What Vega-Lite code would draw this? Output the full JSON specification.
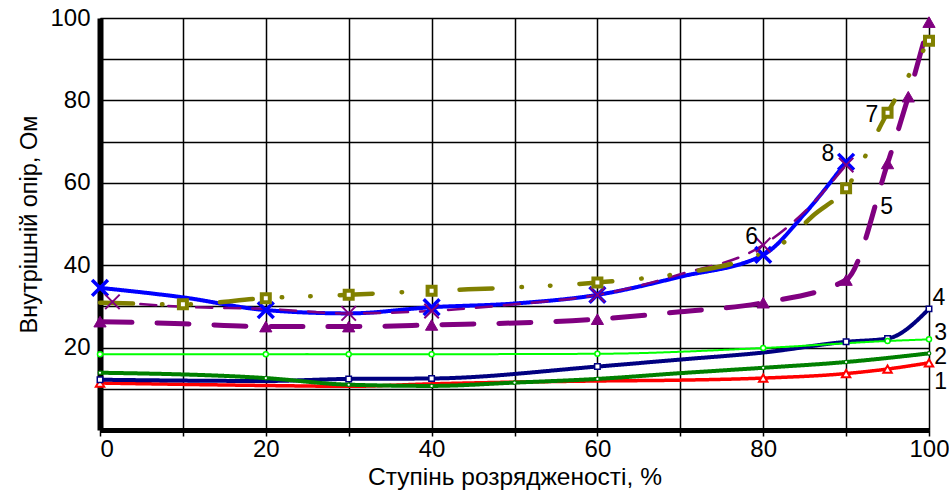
{
  "$schema": "https://vega.github.io/schema/vega-lite/v6.json",
  "width": 829,
  "height": 412,
  "autosize": {"type": "none"},
  "padding": {"left": 100, "top": 18, "right": 20, "bottom": 61},
  "background": "white",
  "datasets": {
    "curves": [
      {"s": "1", "x": 0, "y": 11.4, "m": true},
      {"s": "1", "x": 20, "y": 10.8, "m": false},
      {"s": "1", "x": 30, "y": 10.6, "m": false},
      {"s": "1", "x": 40, "y": 11.2, "m": false},
      {"s": "1", "x": 60, "y": 11.9, "m": false},
      {"s": "1", "x": 70, "y": 12.1, "m": false},
      {"s": "1", "x": 80, "y": 12.6, "m": true},
      {"s": "1", "x": 90, "y": 13.7, "m": true},
      {"s": "1", "x": 95, "y": 14.8, "m": true},
      {"s": "1", "x": 100, "y": 16.3, "m": true},

      {"s": "4", "x": 0, "y": 12.2, "m": true},
      {"s": "4", "x": 20, "y": 11.9, "m": false},
      {"s": "4", "x": 30, "y": 12.4, "m": true},
      {"s": "4", "x": 40, "y": 12.5, "m": true},
      {"s": "4", "x": 60, "y": 15.4, "m": true},
      {"s": "4", "x": 70, "y": 17.1, "m": false},
      {"s": "4", "x": 80, "y": 18.8, "m": false},
      {"s": "4", "x": 90, "y": 21.4, "m": true},
      {"s": "4", "x": 95, "y": 22.2, "m": true},
      {"s": "4", "x": 100, "y": 29.4, "m": true},

      {"s": "2", "x": 0, "y": 13.9, "m": true},
      {"s": "2", "x": 20, "y": 12.6, "m": true},
      {"s": "2", "x": 30, "y": 11.0, "m": true},
      {"s": "2", "x": 40, "y": 10.7, "m": true},
      {"s": "2", "x": 50, "y": 11.5, "m": true},
      {"s": "2", "x": 60, "y": 12.4, "m": true},
      {"s": "2", "x": 70, "y": 13.8, "m": false},
      {"s": "2", "x": 80, "y": 15.1, "m": true},
      {"s": "2", "x": 90, "y": 16.5, "m": true},
      {"s": "2", "x": 100, "y": 18.6, "m": true},

      {"s": "3", "x": 0, "y": 18.4, "m": true},
      {"s": "3", "x": 20, "y": 18.4, "m": true},
      {"s": "3", "x": 30, "y": 18.4, "m": true},
      {"s": "3", "x": 40, "y": 18.4, "m": true},
      {"s": "3", "x": 60, "y": 18.5, "m": true},
      {"s": "3", "x": 80, "y": 19.9, "m": true},
      {"s": "3", "x": 95, "y": 21.6, "m": true},
      {"s": "3", "x": 100, "y": 22.0, "m": true},

      {"s": "5", "x": 0, "y": 26.3, "m": true},
      {"s": "5", "x": 10, "y": 25.8, "m": false},
      {"s": "5", "x": 20, "y": 25.1, "m": true},
      {"s": "5", "x": 30, "y": 25.1, "m": true},
      {"s": "5", "x": 40, "y": 25.5, "m": true},
      {"s": "5", "x": 60, "y": 26.9, "m": true},
      {"s": "5", "x": 70, "y": 28.7, "m": false},
      {"s": "5", "x": 80, "y": 30.9, "m": true},
      {"s": "5", "x": 90, "y": 36.4, "m": true},
      {"s": "5", "x": 95, "y": 64.7, "m": true},
      {"s": "5", "x": 97.5, "y": 80.9, "m": true},
      {"s": "5", "x": 100, "y": 99.0, "m": true},

      {"s": "8", "x": 0, "y": 34.5, "m": true},
      {"s": "8", "x": 10, "y": 32.2, "m": false},
      {"s": "8", "x": 20, "y": 29.1, "m": true},
      {"s": "8", "x": 30, "y": 28.3, "m": false},
      {"s": "8", "x": 40, "y": 29.8, "m": true},
      {"s": "8", "x": 50, "y": 30.7, "m": false},
      {"s": "8", "x": 60, "y": 32.8, "m": true},
      {"s": "8", "x": 70, "y": 37.2, "m": false},
      {"s": "8", "x": 80, "y": 42.5, "m": true},
      {"s": "8", "x": 85, "y": 52.5, "m": false},
      {"s": "8", "x": 90, "y": 65.1, "m": true},

      {"s": "6", "x": 1.5, "y": 31.1, "m": true},
      {"s": "6", "x": 10, "y": 29.9, "m": false},
      {"s": "6", "x": 20, "y": 29.4, "m": false},
      {"s": "6", "x": 30, "y": 28.3, "m": true},
      {"s": "6", "x": 40, "y": 28.9, "m": true},
      {"s": "6", "x": 50, "y": 30.5, "m": false},
      {"s": "6", "x": 60, "y": 32.8, "m": true},
      {"s": "6", "x": 70, "y": 37.8, "m": false},
      {"s": "6", "x": 80, "y": 44.9, "m": true},
      {"s": "6", "x": 85, "y": 53.0, "m": false},
      {"s": "6", "x": 90, "y": 64.3, "m": true},

      {"s": "7", "x": 0, "y": 30.9, "m": false},
      {"s": "7", "x": 10, "y": 30.5, "m": true},
      {"s": "7", "x": 20, "y": 32.0, "m": true},
      {"s": "7", "x": 30, "y": 32.8, "m": true},
      {"s": "7", "x": 40, "y": 33.8, "m": true},
      {"s": "7", "x": 50, "y": 34.6, "m": false},
      {"s": "7", "x": 60, "y": 35.8, "m": true},
      {"s": "7", "x": 70, "y": 38.0, "m": false},
      {"s": "7", "x": 78, "y": 41.5, "m": false},
      {"s": "7", "x": 83, "y": 46.3, "m": false},
      {"s": "7", "x": 86, "y": 52.0, "m": false},
      {"s": "7", "x": 90, "y": 58.7, "m": true},
      {"s": "7", "x": 95, "y": 77.0, "m": true},
      {"s": "7", "x": 100, "y": 94.5, "m": true}
    ],
    "labels": [
      {"t": "1", "x": 101.4, "y": 11.7},
      {"t": "2", "x": 101.4, "y": 17.7},
      {"t": "3", "x": 101.4, "y": 23.5},
      {"t": "4", "x": 101.2, "y": 32.0},
      {"t": "5", "x": 94.9, "y": 54.2},
      {"t": "6", "x": 78.6, "y": 46.9},
      {"t": "7", "x": 93.1, "y": 76.5},
      {"t": "8", "x": 87.8, "y": 67.0}
    ]
  },
  "layer": [
    {
      "data": {"name": "curves"},
      "mark": {"type": "line", "interpolate": "monotone", "strokeCap": "round", "strokeJoin": "round", "clip": false},
      "encoding": {
        "x": {
          "field": "x", "type": "quantitative",
          "scale": {"domain": [0, 100], "nice": false, "zero": false},
          "axis": {
            "values": [0, 10, 20, 30, 40, 50, 60, 70, 80, 90, 100],
            "labelExpr": "datum.value % 20 == 0 ? datum.label : ''",
            "labelAlign": {"expr": "datum.value == 0 ? 'left' : 'center'"},
            "title": "Ступінь розрядженості, %",
            "titleFontSize": 24.5,
            "grid": true,
            "domainWidth": 5,
            "ticks": true, "tickSize": 6, "tickWidth": 1.5, "tickColor": "black",
            "labelPadding": 1,
            "labelFlush": false,
            "titlePadding": 4
          }
        },
        "y": {
          "field": "y", "type": "quantitative",
          "scale": {"domain": [0, 100], "nice": false, "zero": true},
          "axis": {
            "values": [0, 10, 20, 30, 40, 50, 60, 70, 80, 90, 100],
            "labelExpr": "datum.value % 20 == 0 && datum.value > 0 ? datum.label : ''",
            "title": "Внутрішній опір, Ом",
            "titleFontSize": 23.5,
            "grid": true,
            "domainWidth": 6,
            "ticks": false,
            "labelPadding": 10,
            "titlePadding": 8
          }
        },
        "detail": {"field": "s", "type": "nominal"},
        "stroke": {
          "field": "s", "type": "nominal",
          "scale": {"domain": ["1", "2", "3", "4", "5", "6", "7", "8"],
                    "range": ["#ff0000", "#008000", "#00ff00", "#000080", "#800080", "#800080", "#808000", "#0000ff"]},
          "legend": null
        },
        "strokeWidth": {
          "field": "s", "type": "nominal",
          "scale": {"type": "ordinal", "domain": ["1", "2", "3", "4", "5", "6", "7", "8"],
                    "range": [3.5, 4, 2, 4, 5, 2.5, 4.5, 4]},
          "legend": null
        },
        "strokeDash": {
          "field": "s", "type": "nominal",
          "scale": {"domain": ["1", "2", "3", "4", "5", "6", "7", "8"],
                    "range": [[1, 0], [1, 0], [1, 0], [1, 0], [32, 25], [16, 12], [33, 29, 0.5, 28, 0.5, 29], [1, 0]]},
          "legend": null
        }
      }
    },
    {
      "data": {"name": "curves"},
      "transform": [{"filter": "datum.m"}],
      "mark": {"type": "point", "opacity": 1, "fillOpacity": 1, "strokeOpacity": 1, "clip": false},
      "encoding": {
        "x": {"field": "x", "type": "quantitative"},
        "y": {"field": "y", "type": "quantitative"},
        "shape": {
          "field": "s", "type": "nominal",
          "scale": {"domain": ["1", "2", "3", "4", "5", "6", "7", "8"],
                    "range": ["triangle-up", "circle", "circle", "square", "triangle-up", "M-1,-1L1,1M-1,1L1,-1", "square", "M-1,-1L1,1M-1,1L1,-1"]},
          "legend": null
        },
        "stroke": {"field": "s", "type": "nominal", "legend": null},
        "fill": {
          "field": "s", "type": "nominal",
          "scale": {"domain": ["1", "2", "3", "4", "5", "6", "7", "8"],
                    "range": ["#ffffff", "#ffffff", "#ffffff", "#ffffff", "#800080", "#ffffff", "#ffffff", "#ffffff"]},
          "legend": null
        },
        "size": {
          "field": "s", "type": "nominal",
          "scale": {"type": "ordinal", "domain": ["1", "2", "3", "4", "5", "6", "7", "8"],
                    "range": [70, 12, 25, 30, 150, 210, 64, 250]},
          "legend": null
        },
        "strokeWidth": {
          "field": "s", "type": "nominal",
          "scale": {"type": "ordinal", "domain": ["1", "2", "3", "4", "5", "6", "7", "8"],
                    "range": [2, 1.2, 1.5, 1.5, 1, 2, 4, 3.5]},
          "legend": null
        }
      }
    },
    {
      "data": {"name": "labels"},
      "mark": {"type": "text", "fontSize": 23, "font": "Liberation Sans", "color": "black", "align": "center", "baseline": "middle", "clip": false},
      "encoding": {
        "x": {"field": "x", "type": "quantitative"},
        "y": {"field": "y", "type": "quantitative"},
        "text": {"field": "t", "type": "nominal"}
      }
    }
  ],
  "resolve": {"scale": {"strokeWidth": "independent"}},
  "config": {
    "view": {"stroke": null},
    "font": "Liberation Sans",
    "axis": {
      "domainColor": "black",
      "gridColor": "black",
      "gridOpacity": 1,
      "gridWidth": 1.5,
      "labelColor": "black",
      "titleColor": "black",
      "labelFont": "Liberation Sans",
      "labelFontSize": 24,
      "titleFont": "Liberation Sans",
      "titleFontWeight": "normal"
    }
  }
}
